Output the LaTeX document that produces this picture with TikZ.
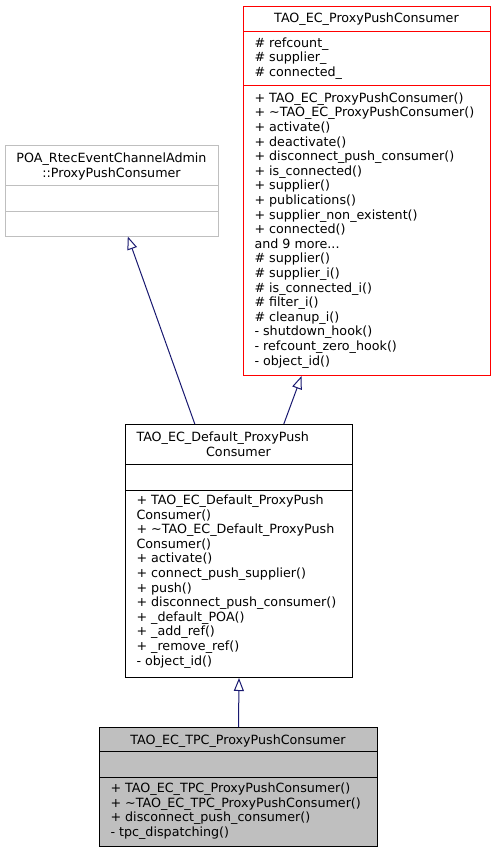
\documentclass[tikz,border=0pt]{standalone}
\usepackage{fontspec}
\setmainfont{DejaVu Sans}
\usetikzlibrary{arrows.meta}
\definecolor{grey75}{HTML}{BFBFBF}
\definecolor{navy}{HTML}{191970}
\begin{document}
\begin{tikzpicture}[x=1pt, y=-1pt, every node/.style = {font=\fontsize{12.7}{14.6}\selectfont}, line width=1pt]
	\tikzstyle{cls} = [draw=black, anchor=north west, inner sep=0pt]
	\tikzstyle{trunc} = [cls, draw=red]
	\tikzstyle{ext} = [cls, draw=grey75]
	\tikzstyle{cur} = [cls, fill=grey75]
	\tikzstyle{txt} = [inner sep=0pt, align=left, anchor=base west]
	\tikzstyle{head} = [inner sep=0pt, align=center, anchor=base]
	\tikzstyle{inh} = [draw=navy, -{Triangle[open, length=13pt, width=10pt]}]
	\useasboundingbox (0,0) rectangle (495,853);
	% class boxes
	\node[trunc, minimum width=247pt, minimum height=369pt] (proxy) at (243,6) {};
	\node[ext, minimum width=213pt, minimum height=90.5pt] (base) at (5,145) {};
	\node[cls, minimum width=227pt, minimum height=253pt] (dflt) at (125,424) {};
	\node[cur, minimum width=278pt, minimum height=119pt] (tpc) at (99,727) {};
	% compartments
	\draw[red] ([yshift=-26pt]proxy.north west) -- ([yshift=-26pt]proxy.north east);
	\draw[red] ([yshift=-80pt]proxy.north west) -- ([yshift=-80pt]proxy.north east);
	\draw[grey75] ([yshift=-40pt]base.north west) -- ([yshift=-40pt]base.north east);
	\draw[grey75] ([yshift=-66pt]base.north west) -- ([yshift=-66pt]base.north east);
	\draw ([yshift=-40pt]dflt.north west) -- ([yshift=-40pt]dflt.north east);
	\draw ([yshift=-66pt]dflt.north west) -- ([yshift=-66pt]dflt.north east);
	\draw ([yshift=-24pt]tpc.north west) -- ([yshift=-24pt]tpc.north east);
	\draw ([yshift=-50pt]tpc.north west) -- ([yshift=-50pt]tpc.north east);
	% texts (multi-line nodes sit on their last line)
	\node[head] (proxyname) at (366.5,22.7) {TAO\_EC\_ProxyPushConsumer};
	\node[txt] (proxyattr) at (254,76.5) {\# refcount\_\\\# supplier\_\\\# connected\_};
	\node[txt] (proxyops) at (254,365.1) {+ TAO\_EC\_ProxyPushConsumer()\\+ \textasciitilde TAO\_EC\_ProxyPushConsumer()\\+ activate()\\+ deactivate()\\+ disconnect\_push\_consumer()\\+ is\_connected()\\+ supplier()\\+ publications()\\+ supplier\_non\_existent()\\+ connected()\\and 9 more...\\\# supplier()\\\# supplier\_i()\\\# is\_connected\_i()\\\# filter\_i()\\\# cleanup\_i()\\- shutdown\_hook()\\- refcount\_zero\_hook()\\- object\_id()};
	\node[head] (basename) at (111.5,177.3) {POA\_RtecEventChannelAdmin\\::ProxyPushConsumer};
	\node[txt] (dfltname) at (136,441.7) {TAO\_EC\_Default\_ProxyPush};
	\node[head] (dfltname2) at (238.5,456) {Consumer};
	\node[txt] (dfltops) at (136,665) {+ TAO\_EC\_Default\_ProxyPush\\Consumer()\\+ \textasciitilde TAO\_EC\_Default\_ProxyPush\\Consumer()\\+ activate()\\+ connect\_push\_supplier()\\+ push()\\+ disconnect\_push\_consumer()\\+ \_default\_POA()\\+ \_add\_ref()\\+ \_remove\_ref()\\- object\_id()};
	\node[head] (tpcname) at (238,744) {TAO\_EC\_TPC\_ProxyPushConsumer};
	\node[txt] (tpcops) at (110,836.5) {+ TAO\_EC\_TPC\_ProxyPushConsumer()\\+ \textasciitilde TAO\_EC\_TPC\_ProxyPushConsumer()\\+ disconnect\_push\_consumer()\\- tpc\_dispatching()};
	% inheritance
	\draw[inh] ([xshift=-44.2pt]dflt.north) -- ([xshift=15.8pt]base.south);
	\draw[inh] ([xshift=44.8pt]dflt.north) -- ([xshift=-65.5pt]proxy.south);
	\draw[inh] (tpc.north) -- (dflt.south);
\end{tikzpicture}
\end{document}
